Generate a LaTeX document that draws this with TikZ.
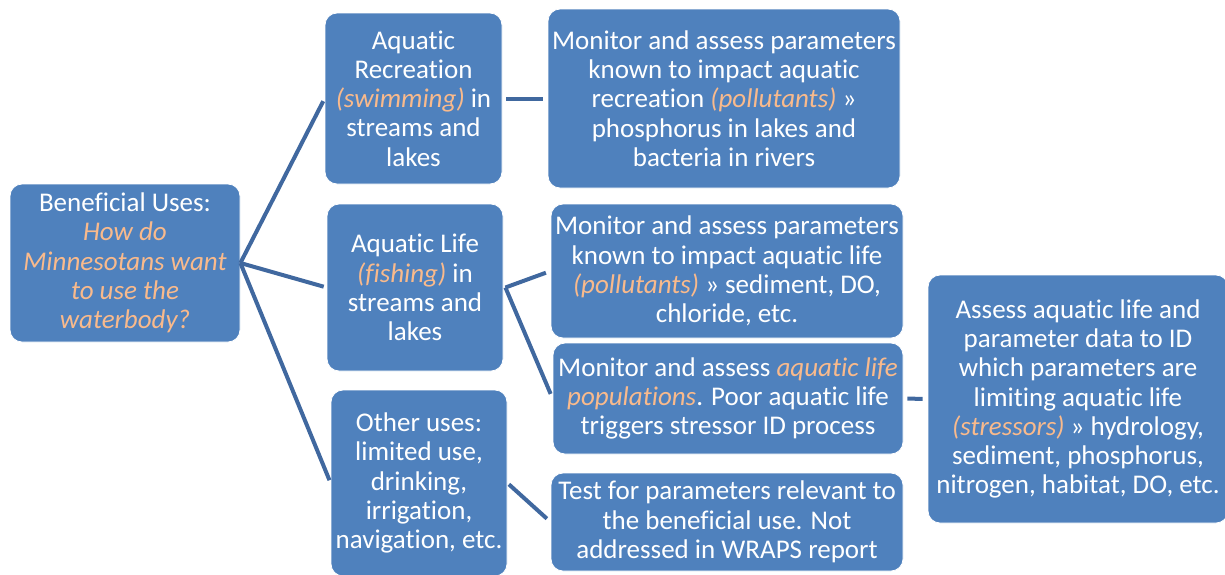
\documentclass[tikz,border=0pt]{standalone}
\usepackage{fontspec}
\setmainfont[Ligatures=NoCommon]{Carlito}
\usepackage{tikz}
\usetikzlibrary{calc}
\definecolor{boxblue}{HTML}{4F81BD}
\definecolor{linkblue}{HTML}{40689F}
\definecolor{softorange}{HTML}{F9BA8C}
\newcommand{\orangeit}[1]{{\itshape\color{softorange}#1}}

\begin{document}
\begin{tikzpicture}[x=1pt,y=-1pt,
        box/.style={fill=boxblue, draw=white, line width=0.8pt, rounded corners=12pt,
            text=white, align=center, inner sep=0pt,
            font=\fontsize{27}{29.3}\selectfont},
        link/.style={draw=linkblue, line width=4pt}]
        \useasboundingbox (0,0) rectangle (1225,574);

        % beneficial use boxes
        \node[box, minimum width=230, minimum height=158] (root) at (125,263)
            {Beneficial Uses:\\\orangeit{How do}\\\orangeit{Minnesotans want}\\\orangeit{to use the}\\\orangeit{waterbody?}};
        \node[box, minimum width=177, minimum height=171] (rec) at (413.5,98.5)
            {Aquatic\\Recreation\\\orangeit{(swimming)} in\\streams and\\lakes};
        \node[box, minimum width=176, minimum height=167] (life) at (415,287.5)
            {Aquatic Life\\\orangeit{(fishing)} in\\streams and\\lakes};
        \node[box, minimum width=176, minimum height=186] (other) at (419,483)
            {Other uses:\\limited use,\\drinking,\\irrigation,\\navigation, etc.};

        % monitoring boxes
        \node[box, minimum width=352, minimum height=179] (recmon) at (724,98.5)
            {Monitor and assess parameters\\known to impact aquatic\\recreation \orangeit{(pollutants)} »\\phosphorus in lakes and\\bacteria in rivers};
        \node[box, minimum width=352, minimum height=134] (lifemon) at (727,271)
            {Monitor and assess parameters\\known to impact aquatic life\\\orangeit{(pollutants)} » sediment, DO,\\chloride, etc.};
        \node[box, minimum width=350, minimum height=111] (popmon) at (728,398.5)
            {Monitor and assess \orangeit{aquatic life}\\\orangeit{populations}. Poor aquatic life\\triggers stressor ID process};
        \node[box, minimum width=352, minimum height=98] (test) at (727,522)
            {Test for parameters relevant to\\the beneficial use. Not\\addressed in WRAPS report};
        \node[box, minimum width=300, minimum height=248] (stress) at (1078,399)
            {Assess aquatic life and\\parameter data to ID\\which parameters are\\limiting aquatic life\\\orangeit{(stressors)} » hydrology,\\sediment, phosphorus,\\nitrogen, habitat, DO, etc.};

        % connectors
        \draw[link, shorten >=3pt] (root.east) -- (rec.west);
        \draw[link, shorten >=3pt] (root.east) -- (life.west);
        \draw[link, shorten >=3pt] (root.east) -- (other.west);
        \draw[link, shorten <=4pt, shorten >=5pt] (rec.east) -- (recmon.west);
        \draw[link, shorten >=5pt] ($(life.east)+(2,0)$) -- (lifemon.west);
        \draw[link, shorten >=5pt] ($(life.east)+(2,0)$) -- (popmon.west);
        \draw[link, shorten <=2pt, shorten >=5pt] (other.east) -- (test.west);
        \draw[link, shorten <=4pt, shorten >=5pt] (popmon.east) -- (stress.west);
\end{tikzpicture}
\end{document}
